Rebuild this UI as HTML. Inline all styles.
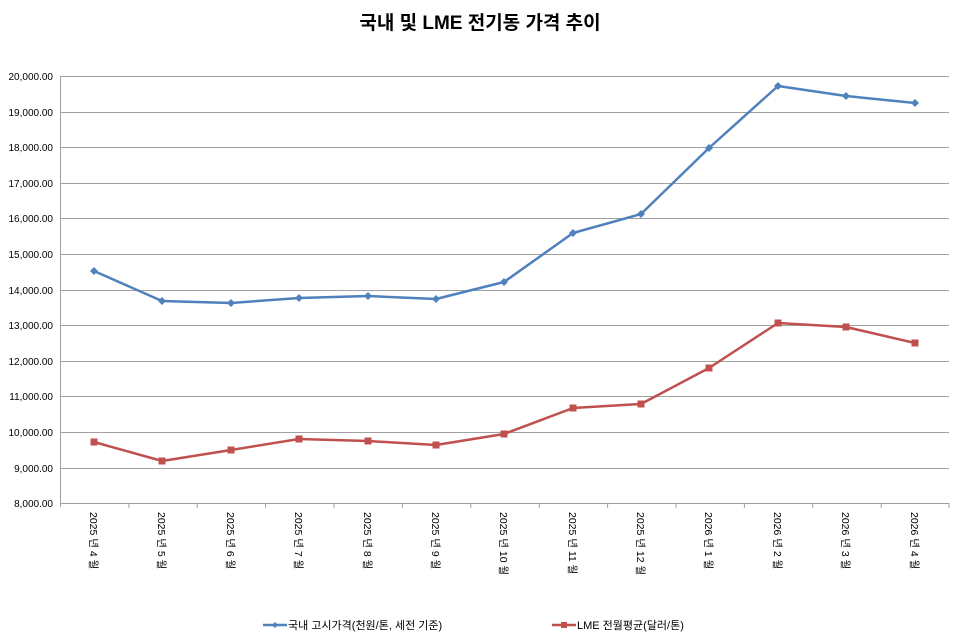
<!DOCTYPE html>
<html><head><meta charset="utf-8"><style>body{margin:0;background:#fff}svg{display:block}text{font-family:"Liberation Sans","Noto Sans CJK KR",sans-serif}</style></head>
<body>
<svg width="960" height="634" viewBox="0 0 960 634" xmlns="http://www.w3.org/2000/svg">
<rect width="960" height="634" fill="#fff"/>
<text x="480" y="29" text-anchor="middle" font-size="19" font-weight="bold" fill="#000">국내 및 LME 전기동 가격 추이</text>
<g stroke="#a0a0a0" stroke-width="1">
<line x1="60" y1="76.5" x2="949" y2="76.5"/><line x1="60" y1="112.5" x2="949" y2="112.5"/><line x1="60" y1="147.5" x2="949" y2="147.5"/><line x1="60" y1="183.5" x2="949" y2="183.5"/><line x1="60" y1="218.5" x2="949" y2="218.5"/><line x1="60" y1="254.5" x2="949" y2="254.5"/><line x1="60" y1="290.5" x2="949" y2="290.5"/><line x1="60" y1="325.5" x2="949" y2="325.5"/><line x1="60" y1="361.5" x2="949" y2="361.5"/><line x1="60" y1="396.5" x2="949" y2="396.5"/><line x1="60" y1="432.5" x2="949" y2="432.5"/><line x1="60" y1="468.5" x2="949" y2="468.5"/><line x1="60" y1="503.5" x2="949" y2="503.5"/>
<line x1="60.5" y1="76" x2="60.5" y2="507"/>
</g>
<g stroke="#a0a0a0"><path d="M128.9 503v5M197.2 503v5M265.6 503v5M334 503v5M402.4 503v5M470.8 503v5M539.2 503v5M607.6 503v5M676 503v5M744.4 503v5M812.8 503v5M881.2 503v5M949 503v5"/></g>
<g font-size="10" text-anchor="end" fill="#000">
<text x="53" y="80">20,000.00</text><text x="53" y="116">19,000.00</text><text x="53" y="151">18,000.00</text><text x="53" y="187">17,000.00</text><text x="53" y="222">16,000.00</text><text x="53" y="258">15,000.00</text><text x="53" y="294">14,000.00</text><text x="53" y="329">13,000.00</text><text x="53" y="365">12,000.00</text><text x="53" y="400">11,000.00</text><text x="53" y="436">10,000.00</text><text x="53" y="472">9,000.00</text><text x="53" y="507">8,000.00</text>
</g>
<g font-size="10.5" fill="#000">
<text transform="translate(90,512) rotate(90)">2025 년 4 월</text>
<text transform="translate(158,512) rotate(90)">2025 년 5 월</text>
<text transform="translate(227,512) rotate(90)">2025 년 6 월</text>
<text transform="translate(295,512) rotate(90)">2025 년 7 월</text>
<text transform="translate(364,512) rotate(90)">2025 년 8 월</text>
<text transform="translate(432,512) rotate(90)">2025 년 9 월</text>
<text transform="translate(500,512) rotate(90)">2025 년 10 월</text>
<text transform="translate(569,512) rotate(90)">2025 년 11 월</text>
<text transform="translate(637,512) rotate(90)">2025 년 12 월</text>
<text transform="translate(705,512) rotate(90)">2026 년 1 월</text>
<text transform="translate(774,512) rotate(90)">2026 년 2 월</text>
<text transform="translate(842,512) rotate(90)">2026 년 3 월</text>
<text transform="translate(911,512) rotate(90)">2026 년 4 월</text>
</g>
<polyline fill="none" stroke="#4f81bd" stroke-width="2.5" stroke-linejoin="round" points="94,271 162,301 231,303 299,298 368,296 436,299 504,282 573,233 641,214 709,148 778,86 846,96 915,103"/>
<g fill="#4f81bd">
<path d="M94 267l4 4-4 4-4-4z M162 297l4 4-4 4-4-4z M231 299l4 4-4 4-4-4z M299 294l4 4-4 4-4-4z M368 292l4 4-4 4-4-4z M436 295l4 4-4 4-4-4z M504 278l4 4-4 4-4-4z M573 229l4 4-4 4-4-4z M641 210l4 4-4 4-4-4z M709 144l4 4-4 4-4-4z M778 82l4 4-4 4-4-4z M846 92l4 4-4 4-4-4z M915 99l4 4-4 4-4-4z"/>
</g>
<polyline fill="none" stroke="#c0504d" stroke-width="2.5" stroke-linejoin="round" points="94,442 162,461 231,450 299,439 368,441 436,445 504,434 573,408 641,404 709,368 778,323 846,327 915,343"/>
<g fill="#c0504d">
<rect x="90.5" y="438.5" width="7" height="7"/><rect x="158.5" y="457.5" width="7" height="7"/><rect x="227.5" y="446.5" width="7" height="7"/><rect x="295.5" y="435.5" width="7" height="7"/><rect x="364.5" y="437.5" width="7" height="7"/><rect x="432.5" y="441.5" width="7" height="7"/><rect x="500.5" y="430.5" width="7" height="7"/><rect x="569.5" y="404.5" width="7" height="7"/><rect x="637.5" y="400.5" width="7" height="7"/><rect x="705.5" y="364.5" width="7" height="7"/><rect x="774.5" y="319.5" width="7" height="7"/><rect x="842.5" y="323.5" width="7" height="7"/><rect x="911.5" y="339.5" width="7" height="7"/>
</g>
<line x1="263" y1="625" x2="287" y2="625" stroke="#4f81bd" stroke-width="2.5"/>
<path d="M275 622l3 3-3 3-3-3z" fill="#4f81bd"/>
<text x="288" y="629" font-size="11" fill="#000">국내 고시가격(천원/톤, 세전 기준)</text>
<line x1="552" y1="625" x2="576" y2="625" stroke="#c0504d" stroke-width="2.5"/>
<rect x="561" y="622" width="6" height="6" fill="#c0504d"/>
<text x="577" y="629" font-size="11" fill="#000">LME 전월평균(달러/톤)</text>
</svg>
</body></html>
